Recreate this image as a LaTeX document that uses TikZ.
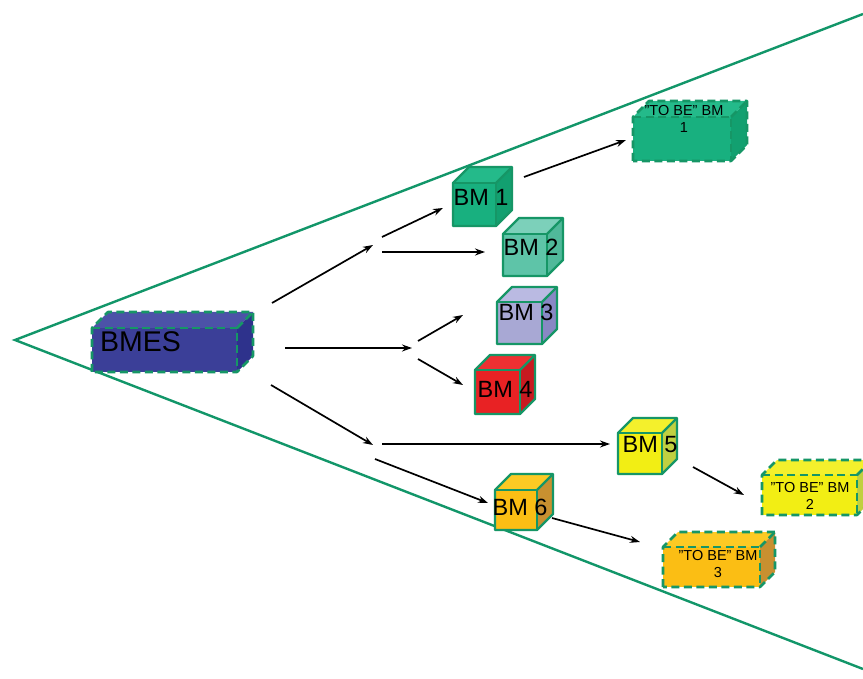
\documentclass[tikz,border=0pt]{standalone}
\usepackage{fontspec}
\setmainfont{Liberation Sans}
\usetikzlibrary{arrows.meta}

\definecolor{edgegreen}{RGB}{22,150,102}
\definecolor{linegreen}{RGB}{18,150,105}
\definecolor{bmesfront}{RGB}{59,63,152}
\definecolor{bmestop}{RGB}{76,82,168}
\definecolor{bmesside}{RGB}{46,50,140}
\definecolor{gAfront}{RGB}{24,176,127}
\definecolor{gAtop}{RGB}{36,186,138}
\definecolor{gAside}{RGB}{18,160,112}
\definecolor{gBfront}{RGB}{94,196,168}
\definecolor{gBtop}{RGB}{124,208,186}
\definecolor{gBside}{RGB}{80,185,154}
\definecolor{lavfront}{RGB}{168,168,212}
\definecolor{lavtop}{RGB}{186,186,226}
\definecolor{lavside}{RGB}{136,136,196}
\definecolor{redfront}{RGB}{232,34,36}
\definecolor{redtop}{RGB}{238,48,50}
\definecolor{redside}{RGB}{200,26,32}
\definecolor{yelfront}{RGB}{242,238,20}
\definecolor{yeltop}{RGB}{244,240,44}
\definecolor{yelside}{RGB}{192,208,64}
\definecolor{orafront}{RGB}{251,190,20}
\definecolor{oratop}{RGB}{252,202,36}
\definecolor{oraside}{RGB}{200,144,48}

% #1,#2 front top-left; #3,#4 front bottom-right; #5 depth;
% #6 front, #7 top, #8 side colour; #9 outline style
\newcommand\prismbox[9]{%
  \fill[#6] (#1,#2) rectangle (#3,#4);
  \fill[#7] (#1,#2) -- (#1+#5,#2-#5) -- (#3+#5,#2-#5) -- (#3,#2) -- cycle;
  \fill[#8] (#3,#2) -- (#3+#5,#2-#5) -- (#3+#5,#4-#5) -- (#3,#4) -- cycle;
  \draw[#9] (#1,#4) -- (#1,#2) -- (#1+#5,#2-#5) -- (#3+#5,#2-#5)
            -- (#3+#5,#4-#5) -- (#3,#4) -- cycle;
  \draw[#9] (#1,#2) -- (#3,#2) -- (#3,#4);
  \draw[#9] (#3,#2) -- (#3+#5,#2-#5);
}

\tikzset{
  solidedge/.style={draw=edgegreen, line width=2.3pt, line join=round},
  dashedge/.style={draw=edgegreen, line width=2.6pt, dash pattern=on 8pt off 4.5pt, line join=round},
  frame/.style={draw=linegreen, line width=2.4pt},
  flow/.style={draw=black, line width=1.7pt, -{Stealth[length=10pt,width=7pt]}},
  cubelabel/.style={inner sep=0pt, font=\fontsize{23.5}{28}\selectfont},
  tobelabel/.style={inner sep=0pt, align=center, font=\fontsize{14.5}{17}\selectfont},
}

\begin{document}
\begin{tikzpicture}[x=1pt,y=-1pt]
\useasboundingbox (0,0) rectangle (863,679);
\fill[white] (0,0) rectangle (863,679);

% funnel outline
\coordinate (apex) at (15,340);
\coordinate (topend) at (863,14);
\coordinate (botend) at (863,669);
\draw[frame] (topend) -- (apex) -- (botend);

% blocks
\prismbox{92}{328}{237}{372}{16}{bmesfront}{bmestop}{bmesside}{dashedge}
\node[anchor=west, inner sep=0pt, font=\fontsize{28.5}{34}\selectfont] (bmes) at (100,342) {BMES};

\prismbox{453}{183}{496}{226}{16}{gAfront}{gAtop}{gAside}{solidedge}
\node[cubelabel] (bm1) at (481,197) {BM 1};

\prismbox{503}{234}{547}{276}{16}{gBfront}{gBtop}{gBside}{solidedge}
\node[cubelabel] (bm2) at (531,247) {BM 2};

\prismbox{497}{302}{542}{344}{15}{lavfront}{lavtop}{lavside}{solidedge}
\node[cubelabel] (bm3) at (526,312) {BM 3};

\prismbox{475}{370}{520}{414}{15}{redfront}{redtop}{redside}{solidedge}
\node[cubelabel] (bm4) at (505,389) {BM 4};

\prismbox{618}{433}{662}{474}{15}{yelfront}{yeltop}{yelside}{solidedge}
\node[cubelabel] (bm5) at (650,445) {BM 5};

\prismbox{495}{490}{537}{530}{16}{orafront}{oratop}{oraside}{solidedge}
\node[cubelabel] (bm6) at (520,507) {BM 6};

\prismbox{633}{117}{731}{161}{16}{gAfront}{gAtop}{gAside}{dashedge}
\node[tobelabel] (tobe1) at (684,119) {"TO BE" BM\\1};

\prismbox{762}{475}{857}{515}{15}{yelfront}{yeltop}{yelside}{dashedge}
\node[tobelabel] (tobe2) at (810,496) {"TO BE" BM\\2};

\prismbox{663}{547}{760}{587}{15}{orafront}{oratop}{oraside}{dashedge}
\node[tobelabel] (tobe3) at (718,564) {"TO BE" BM\\3};

% arrow end points
\coordinate (upS) at (272,303);   \coordinate (upE) at (373,245);
\coordinate (oneS) at (382,237);  \coordinate (oneE) at (443,208);
\coordinate (twoS) at (382,252);  \coordinate (twoE) at (485,252);
\coordinate (tbaS) at (524,177);  \coordinate (tbaE) at (626,140);
\coordinate (midS) at (285,348);  \coordinate (midE) at (412,348);
\coordinate (thrS) at (418,341);  \coordinate (thrE) at (463,315);
\coordinate (fouS) at (418,359);  \coordinate (fouE) at (463,385);
\coordinate (dnS) at (271,385);   \coordinate (dnE) at (373,445);
\coordinate (fivS) at (382,444);  \coordinate (fivE) at (610,444);
\coordinate (sixS) at (375,459);  \coordinate (sixE) at (488,503);
\coordinate (tbbS) at (693,467);  \coordinate (tbbE) at (744,495);
\coordinate (tbcS) at (552,518);  \coordinate (tbcE) at (640,542);

\draw[flow] (upS) -- (upE);
\draw[flow] (oneS) -- (oneE);
\draw[flow] (twoS) -- (twoE);
\draw[flow] (tbaS) -- (tbaE);
\draw[flow] (midS) -- (midE);
\draw[flow] (thrS) -- (thrE);
\draw[flow] (fouS) -- (fouE);
\draw[flow] (dnS) -- (dnE);
\draw[flow] (fivS) -- (fivE);
\draw[flow] (sixS) -- (sixE);
\draw[flow] (tbbS) -- (tbbE);
\draw[flow] (tbcS) -- (tbcE);
\end{tikzpicture}
\end{document}
